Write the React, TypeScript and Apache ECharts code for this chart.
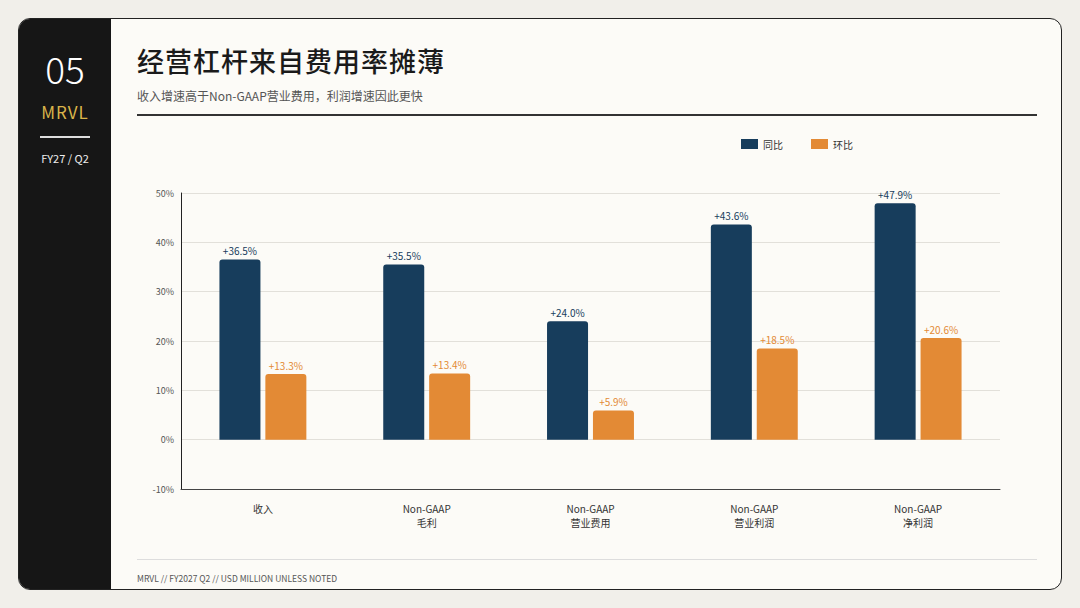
import { useEffect, useRef } from 'react';
import * as echarts from 'echarts';

const categories = ['收入', 'Non-GAAP\n毛利', 'Non-GAAP\n营业费用', 'Non-GAAP\n营业利润', 'Non-GAAP\n净利润'];
const yoyValues = [36.5, 35.5, 24.0, 43.6, 47.9];
const qoqValues = [13.3, 13.4, 5.9, 18.5, 20.6];
const seriesNames = ['同比', '环比'];

const FONT = '"Noto Sans CJK SC", "Noto Sans", sans-serif';

const App = () => {
    const chartRef = useRef<HTMLDivElement>(null);

    useEffect(() => {
        document.body.style.margin = '0';
        if (!chartRef.current) return;
        const chart = echarts.init(chartRef.current, undefined, { renderer: 'svg' });

        const label = (color: string) => ({
            show: true,
            position: 'top' as const,
            distance: 4,
            fontSize: 10,
            fontFamily: FONT,
            color,
            formatter: (p: any) => `+${p.value.toFixed(1)}%`,
        });

        chart.setOption({
            animation: false,
            textStyle: { fontFamily: FONT },
            legend: {
                top: 134,
                left: 736,
                itemWidth: 17,
                itemHeight: 10,
                itemGap: 28,
                icon: 'rect',
                textStyle: { fontSize: 10, color: '#333' },
                data: seriesNames,
            },
            grid: { left: 181, right: 80, top: 193, bottom: 119 },
            xAxis: {
                type: 'category',
                data: categories,
                axisLine: { onZero: false, lineStyle: { color: '#444' } },
                axisTick: { show: false },
                axisLabel: { fontSize: 10, color: '#333', margin: 12, lineHeight: 14 },
            },
            yAxis: {
                type: 'value',
                min: -10,
                max: 50,
                interval: 10,
                axisLine: { show: true, lineStyle: { color: '#222' } },
                axisLabel: { fontSize: 9, color: '#555', formatter: '{value}%', margin: 7 },
                splitLine: { lineStyle: { color: '#e2e0da' } },
            },
            series: [
                {
                    name: seriesNames[0],
                    type: 'bar',
                    data: yoyValues,
                    barWidth: 41,
                    barGap: '12%',
                    itemStyle: { color: '#173d5c', borderRadius: [3, 3, 0, 0] },
                    label: label('#173d5c'),
                },
                {
                    name: seriesNames[1],
                    type: 'bar',
                    data: qoqValues,
                    barWidth: 41,
                    itemStyle: { color: '#e38a35', borderRadius: [3, 3, 0, 0] },
                    label: label('#e38a35'),
                },
            ],
        });

        return () => chart.dispose();
    }, []);

    return (
        <div style={{ position: 'relative', width: 1080, height: 608, background: '#f1efea', fontFamily: FONT, overflow: 'hidden' }}>
            <div style={{ position: 'absolute', left: 18, top: 18, width: 1042, height: 570, background: '#fcfbf7', border: '1.5px solid #222', borderRadius: 12, overflow: 'hidden' }}>
                <div style={{ position: 'absolute', left: 0, top: 0, width: 92, height: '100%', background: '#161616' }} />
                <div style={{ position: 'absolute', left: 0, top: 22, width: 92, textAlign: 'center', color: '#fff', fontSize: 37, fontWeight: 300 }}>05</div>
                <div style={{ position: 'absolute', left: 0, top: 80, width: 92, textAlign: 'center', color: '#d9b44a', fontSize: 17, letterSpacing: 1 }}>MRVL</div>
                <div style={{ position: 'absolute', left: 21, top: 117, width: 50, height: 1.5, background: '#ddd' }} />
                <div style={{ position: 'absolute', left: 0, top: 131, width: 92, textAlign: 'center', color: '#eee', fontSize: 11 }}>FY27 / Q2</div>
                <div style={{ position: 'absolute', left: 118, top: 22, color: '#1a1a1a', fontSize: 27, fontWeight: 500, letterSpacing: 1 }}>经营杠杆来自费用率摊薄</div>
                <div style={{ position: 'absolute', left: 118, top: 68, color: '#555', fontSize: 12 }}>收入增速高于Non-GAAP营业费用，利润增速因此更快</div>
                <div style={{ position: 'absolute', left: 118, top: 95, width: 900, height: 1.5, background: '#333' }} />
                <div style={{ position: 'absolute', left: 118, top: 540, width: 900, height: 1, background: '#ddd' }} />
                <div style={{ position: 'absolute', left: 118, top: 553, color: '#555', fontSize: 8.5 }}>MRVL // FY2027 Q2 // USD MILLION UNLESS NOTED</div>
            </div>
            <div ref={chartRef} style={{ position: 'absolute', left: 0, top: 0, width: 1080, height: 608 }} />
        </div>
    );
};

export default App;
